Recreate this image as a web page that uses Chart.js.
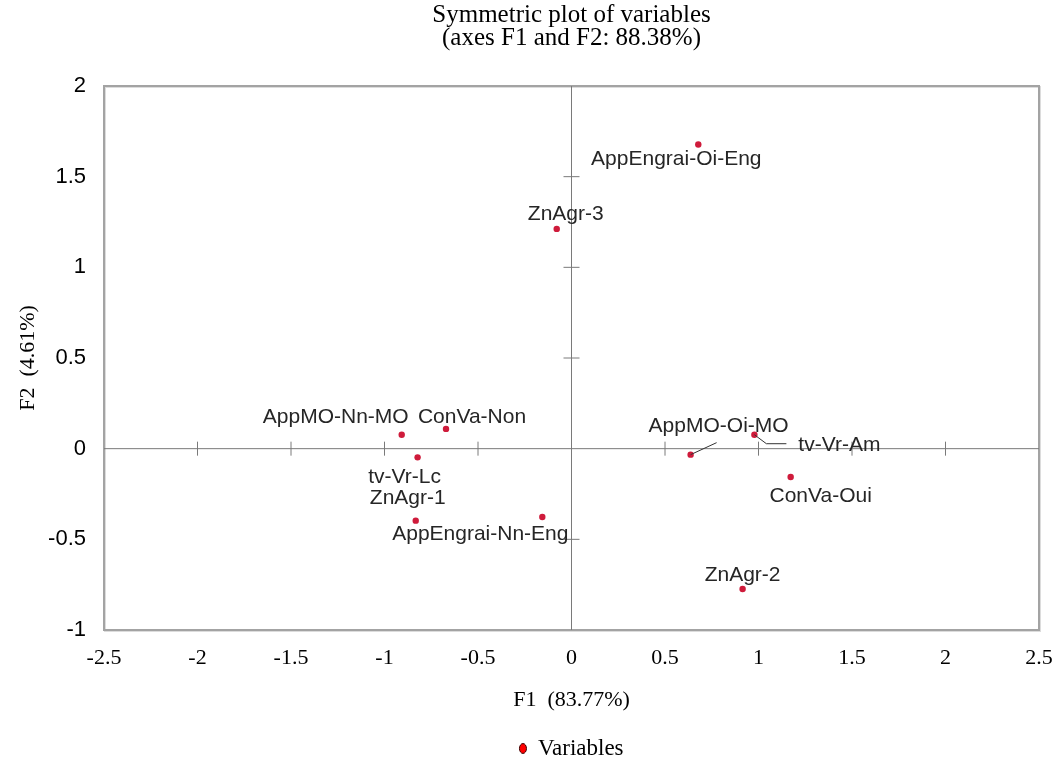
<!DOCTYPE html>
<html>
<head>
<meta charset="utf-8">
<title>Symmetric plot of variables</title>
<script src="https://cdn.jsdelivr.net/npm/chart.js@4"></script>
<style>
  body { margin: 0; background: #fff; }
  #wrap { width: 1055px; height: 760px; }
</style>
</head>
<body>
<div id="wrap"><canvas id="myGraf"></canvas></div>
<script>
// coordonnees des variables sur F1 / F2
var varNames = ['AppEngrai-Oi-Eng', 'ZnAgr-3', 'AppMO-Nn-MO', 'ConVa-Non', 'tv-Vr-Lc', 'ZnAgr-1',
                'AppEngrai-Nn-Eng', 'AppMO-Oi-MO', 'tv-Vr-Am', 'ConVa-Oui', 'ZnAgr-2'];
var f1Values = [0.678, -0.079, -0.908, -0.671, -0.823, -0.833, -0.156, 0.637, 0.978, 1.172, 0.915];
var f2Values = [1.677, 1.212, 0.077, 0.109, -0.048, -0.397, -0.377, -0.033, 0.077, -0.156, -0.774];

var xTicks = [-2.5, -2, -1.5, -1, -0.5, 0, 0.5, 1, 1.5, 2, 2.5];
var xTickLabels = ['-2.5', '-2', '-1.5', '-1', '-0.5', '0', '0.5', '1', '1.5', '2', '2.5'];
var yTicks = [-1, -0.5, 0, 0.5, 1, 1.5, 2];
var yTickLabels = ['-1', '-0.5', '0', '0.5', '1', '1.5', '2'];

// petites graduations sur les axes centraux
var xAxisMarks = [-2, -1.5, -1, -0.5, 0.5, 1, 1.5, 2];
var yAxisMarks = [-0.5, 0.5, 1, 1.5];

// placement des etiquettes (px par rapport au point)
var labelOffsets = [[-22, 15], [9, -15], [-66, -18], [26, -12], [-13, 20], [-8, -22],
                    [-62, 17], [28, -28], [85, 10], [30, 19], [0, -14]];
// traits de rappel
var leaderLines = { 7: [[0, 0], [26, -12]], 8: [[0, 0], [12, 9], [32, 9]] };

var axisGray = '#7a7a7a';
var serif = '"Liberation Serif", "Times New Roman", serif';

var pointLabels = {
    id: 'pointLabels',
    afterDatasetsDraw: function(chart) {
        var ctx = chart.ctx;
        var meta = chart.getDatasetMeta(0);
        ctx.save();
        ctx.strokeStyle = '#333';
        ctx.lineWidth = 1;
        Object.keys(leaderLines).forEach(function(k) {
            var pt = meta.data[k];
            var path = leaderLines[k];
            ctx.beginPath();
            ctx.moveTo(pt.x + path[0][0], pt.y + path[0][1]);
            for (var j = 1; j < path.length; j++) {
                ctx.lineTo(pt.x + path[j][0], pt.y + path[j][1]);
            }
            ctx.stroke();
        });
        ctx.font = '21px "Liberation Sans", Arial, sans-serif';
        ctx.fillStyle = '#262626';
        ctx.textAlign = 'center';
        ctx.textBaseline = 'middle';
        meta.data.forEach(function(pt, i) {
            ctx.fillText(varNames[i], pt.x + labelOffsets[i][0], pt.y + labelOffsets[i][1]);
        });
        ctx.restore();
    }
};

var frame = {
    id: 'frame',
    beforeDatasetsDraw: function(chart) {
        var a = chart.chartArea;
        var ctx = chart.ctx;
        ctx.save();
        ctx.strokeStyle = '#dcdcdc';
        ctx.lineWidth = 2;
        ctx.strokeRect(a.left + 1, a.top + 1, a.right - a.left, a.bottom - a.top);
        ctx.strokeStyle = '#a3a3a3';
        ctx.strokeRect(a.left, a.top, a.right - a.left, a.bottom - a.top);
        ctx.restore();
    }
};

var points = f1Values.map(function(v, i) { return { x: v, y: f2Values[i] }; });

var ctx = document.getElementById('myGraf').getContext('2d');
var myGraf = new Chart(ctx, {
    type: 'scatter',
    data: {
        datasets: [{
            label: 'Variables',
            data: points,
            pointStyle: 'circle',
            pointRadius: 3.2,
            pointBackgroundColor: '#cf1b3b',
            pointBorderColor: '#cf1b3b',
            pointBorderWidth: 0
        }, {
            label: 'axeF1',
            data: [{ x: -2.5, y: 0 }, { x: 2.5, y: 0 }],
            showLine: true,
            borderColor: axisGray,
            borderWidth: 1,
            pointRadius: 0
        }, {
            label: 'axeF2',
            data: [{ x: 0, y: -1 }, { x: 0, y: 2 }],
            showLine: true,
            borderColor: axisGray,
            borderWidth: 1,
            pointRadius: 0
        }, {
            label: 'gradF1',
            data: xAxisMarks.map(function(v) { return { x: v, y: 0 }; }),
            pointStyle: 'line',
            rotation: 90,
            pointRadius: 7,
            pointBorderColor: axisGray,
            pointBorderWidth: 1
        }, {
            label: 'gradF2',
            data: yAxisMarks.map(function(v) { return { x: 0, y: v }; }),
            pointStyle: 'line',
            rotation: 0,
            pointRadius: 8,
            pointBorderColor: axisGray,
            pointBorderWidth: 1
        }]
    },
    options: {
        responsive: true,
        maintainAspectRatio: false,
        animation: false,
        events: [],
        layout: { padding: { left: 0, right: 16, top: 0, bottom: 0 } },
        scales: {
            x: {
                type: 'linear',
                min: -2.5,
                max: 2.5,
                grid: { display: false },
                border: { display: false },
                afterBuildTicks: function(scale) {
                    scale.ticks = xTicks.map(function(v) { return { value: v }; });
                },
                afterFit: function(scale) {
                    scale.height = 103;
                    scale.paddingLeft = 0;
                    scale.paddingRight = 0;
                },
                ticks: {
                    padding: 7,
                    color: '#000',
                    maxRotation: 0,
                    autoSkip: false,
                    font: { family: serif, size: 22 },
                    callback: function(value) {
                        var i = xTicks.indexOf(value);
                        return i >= 0 ? xTickLabels[i] : '';
                    }
                },
                title: {
                    display: true,
                    text: 'F1  (83.77%)',
                    color: '#000',
                    font: { family: serif, size: 22 },
                    padding: { top: 0, bottom: 20 }
                }
            },
            y: {
                type: 'linear',
                min: -1,
                max: 2,
                grid: { display: false },
                border: { display: false },
                afterBuildTicks: function(scale) {
                    scale.ticks = yTicks.map(function(v) { return { value: v }; });
                },
                afterFit: function(scale) {
                    scale.width = 104;
                    scale.paddingTop = 0;
                    scale.paddingBottom = 0;
                },
                ticks: {
                    padding: 10,
                    color: '#000',
                    autoSkip: false,
                    font: { family: '"Liberation Sans", Arial, sans-serif', size: 22 },
                    callback: function(value) {
                        var i = yTicks.indexOf(value);
                        return i >= 0 ? yTickLabels[i] : '';
                    }
                },
                title: {
                    display: true,
                    text: 'F2  (4.61%)',
                    color: '#000',
                    font: { family: serif, size: 22 },
                    padding: { top: 15, bottom: 0 }
                }
            }
        },
        plugins: {
            title: {
                display: true,
                fullSize: false,
                text: ['Symmetric plot of variables', '(axes F1 and F2: 88.38%)'],
                color: '#000',
                font: { family: serif, size: 25, weight: 'normal', lineHeight: 0.92 },
                padding: { top: 4, bottom: 36 }
            },
            legend: {
                display: true,
                position: 'bottom',
                fullSize: false,
                maxHeight: 27,
                labels: {
                    usePointStyle: true,
                    boxHeight: 7,
                    pointStyleWidth: 7,
                    padding: 4,
                    color: '#000',
                    font: { family: serif, size: 23 },
                    generateLabels: function(chart) {
                        var items = Chart.defaults.plugins.legend.labels.generateLabels(chart);
                        items = items.filter(function(it) { return it.datasetIndex === 0; });
                        items[0].fillStyle = '#ff0000';
                        items[0].strokeStyle = '#3a0000';
                        items[0].lineWidth = 1;
                        return items;
                    }
                }
            },
            tooltip: { enabled: false }
        }
    },
    plugins: [frame, pointLabels]
});
</script>
</body>
</html>
